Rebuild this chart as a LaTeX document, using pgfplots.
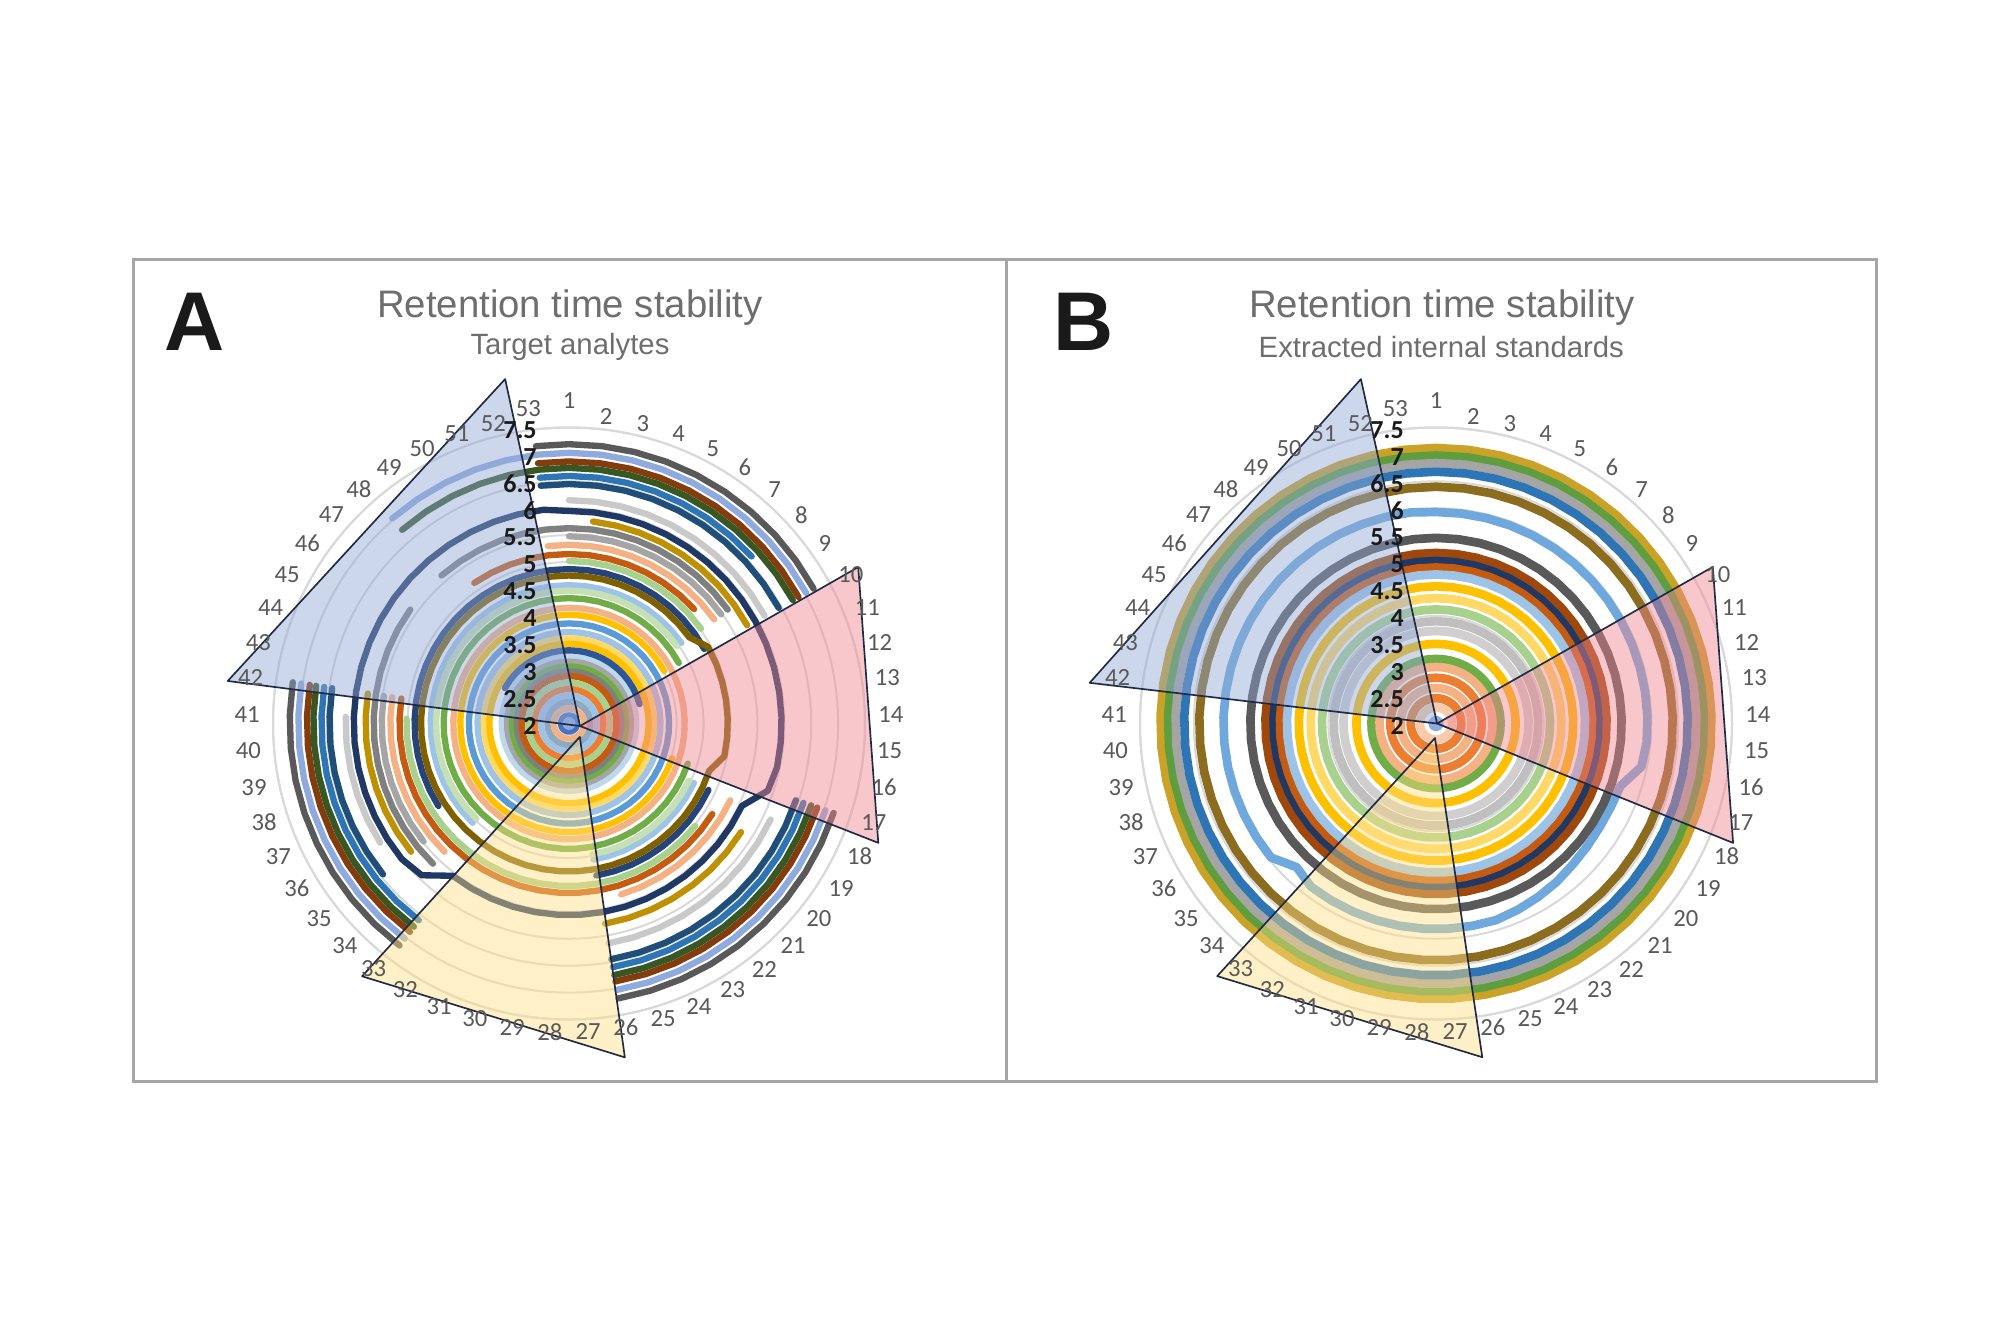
\documentclass[border=0pt]{standalone}
\usepackage{fontspec}
\setmainfont{Liberation Sans}
\newfontfamily\calibri{Carlito}
\usepackage{pgfplots}
\usepackage{pgfplotstable}
\pgfplotsset{compat=1.18}
\usepgfplotslibrary{polar}

\definecolor{gridgray}{HTML}{D9D9D9}
\definecolor{boxgray}{HTML}{A6A6A6}
\definecolor{labgray}{HTML}{595959}
\definecolor{titlegray}{HTML}{6E6E6E}
\definecolor{radblack}{HTML}{1A1A1A}
\definecolor{triedge}{HTML}{1F2A44}
\definecolor{triblue}{RGB}{146,168,213}
\definecolor{tripink}{RGB}{239,133,144}
\definecolor{triyellow}{RGB}{255,222,133}
% panel A, partial series
\definecolor{ac1}{HTML}{595959}\definecolor{ac2}{HTML}{8FAADC}\definecolor{ac3}{HTML}{843C0C}
\definecolor{ac4}{HTML}{385723}\definecolor{ac5}{HTML}{2E75B6}\definecolor{ac6}{HTML}{1F4E79}
\definecolor{ac7}{HTML}{C9C9C9}\definecolor{ac8}{HTML}{203864}\definecolor{ac9}{HTML}{BF9000}
\definecolor{ac10}{HTML}{7F7F7F}\definecolor{ac11}{HTML}{A5A5A5}\definecolor{ac12}{HTML}{F4B183}
\definecolor{ac13}{HTML}{C55A11}\definecolor{ac14}{HTML}{A9D18E}\definecolor{ac15}{HTML}{264478}
\definecolor{ac16}{HTML}{7F6000}\definecolor{ac17}{HTML}{9DC3E6}\definecolor{ac18}{HTML}{C5E0B4}
\definecolor{ac19}{HTML}{70AD47}\definecolor{ac20}{HTML}{FFC000}\definecolor{ac21}{HTML}{2F5597}
% panel A, full rings
\definecolor{af1}{HTML}{F4B183}\definecolor{af2}{HTML}{5B9BD5}\definecolor{af3}{HTML}{9DC3E6}
\definecolor{af4}{HTML}{FFD966}\definecolor{af5}{HTML}{FFC000}\definecolor{af6}{HTML}{BDD7EE}
\definecolor{af7}{HTML}{A5A5A5}\definecolor{af8}{HTML}{70AD47}\definecolor{af9}{HTML}{7F7F7F}
\definecolor{af10}{HTML}{C55A11}\definecolor{af11}{HTML}{A9D18E}\definecolor{af12}{HTML}{ED7D31}
\definecolor{af13}{HTML}{9DC3E6}\definecolor{af14}{HTML}{8EA9C1}\definecolor{af15}{HTML}{F4B183}
\definecolor{af16}{HTML}{4472C4}\definecolor{af17}{HTML}{8FAADC}
% panel B
\definecolor{bc1}{HTML}{C9A227}\definecolor{bc2}{HTML}{5E9E3E}\definecolor{bc3}{HTML}{A5A5A5}
\definecolor{bc4}{HTML}{2E75B6}\definecolor{bc5}{HTML}{8C6D1F}\definecolor{bc6}{HTML}{6FA8DC}
\definecolor{bc7}{HTML}{595959}\definecolor{bc8}{HTML}{9E480E}\definecolor{bc9}{HTML}{203864}
\definecolor{bc10}{HTML}{C55A11}\definecolor{bc11}{HTML}{9DC3E6}\definecolor{bc12}{HTML}{FFC000}
\definecolor{bc13}{HTML}{FFD966}\definecolor{bc14}{HTML}{A9D18E}\definecolor{bc15}{HTML}{BFBFBF}
\definecolor{bc16}{HTML}{D0CECE}\definecolor{bc17}{HTML}{FFC000}\definecolor{bc18}{HTML}{70AD47}
\definecolor{bc19}{HTML}{F4B183}\definecolor{bc20}{HTML}{ED7D31}\definecolor{bc21}{HTML}{F4B183}
\definecolor{bc22}{HTML}{ED7D31}\definecolor{bc23}{HTML}{F8CBAD}\definecolor{bc24}{HTML}{8FAADC}

% Panel A: series with gaps (spoke k, retention time)
\pgfplotstableread{
k c1 c2 c3 c4 c5 c6 c7 c8 c9 c10 c11 c12 c13 c14 c15 c16 c17 c18 c19 c20 c21
1 7.19 7.03 6.87 6.75 6.60 6.45 6.15 5.95 nan 5.63 5.48 5.32 5.15 5.02 4.87 4.75 4.57 4.47 4.33 4.02 3.36
2 7.19 7.03 6.87 6.75 6.60 6.45 6.15 5.95 5.78 5.63 5.48 5.32 5.15 5.02 4.87 4.75 4.57 4.47 4.33 4.02 3.36
3 7.19 7.03 6.87 6.75 6.60 6.45 6.15 5.95 5.78 5.63 5.48 5.32 5.15 5.02 4.87 4.75 4.57 4.47 4.33 4.02 3.36
4 7.19 7.03 6.87 6.75 6.60 6.45 6.15 5.95 5.78 5.63 5.48 5.32 5.15 5.02 4.87 4.75 4.57 4.47 4.33 4.02 3.36
5 7.19 7.03 6.87 6.75 6.60 6.45 6.15 5.95 5.78 5.63 5.48 5.32 5.15 5.02 4.87 4.75 4.57 4.47 4.33 4.02 3.36
6 7.19 7.03 6.87 6.75 6.60 6.45 6.15 5.95 5.78 5.63 5.48 5.32 5.15 5.02 4.87 4.75 4.57 4.47 4.33 4.02 3.36
7 7.19 7.03 6.87 6.75 6.60 6.45 6.15 5.95 5.78 5.63 5.48 5.32 5.15 5.02 4.87 4.75 4.57 4.47 4.33 4.02 3.36
8 7.19 7.03 6.87 6.75 6.60 6.45 6.15 5.95 5.78 5.63 5.48 5.32 5.15 5.02 4.87 4.75 4.57 4.47 4.33 4.02 3.36
9 7.19 7.03 6.87 6.75 nan 6.45 6.15 5.95 5.78 5.63 5.48 5.32 nan 5.02 4.87 4.75 4.57 4.47 4.33 4.02 3.36
10 7.19 7.03 6.87 6.75 nan 6.45 6.15 5.95 5.78 nan nan nan nan nan 4.87 4.95 nan nan 4.33 4.02 3.36
11 nan nan nan nan nan nan nan 5.95 nan nan nan nan nan nan nan 4.95 nan nan nan nan 3.36
12 nan nan nan nan nan nan nan 5.95 nan nan nan nan nan nan nan 4.95 nan nan nan nan 3.36
13 nan nan nan nan nan nan nan 5.95 nan nan nan nan nan nan nan 4.95 nan nan nan nan nan
14 nan nan nan nan nan nan nan 5.95 nan nan nan nan nan nan nan 4.95 nan nan nan nan nan
15 nan nan nan nan nan nan nan 5.95 nan nan nan nan nan nan nan 4.95 nan nan nan nan nan
16 nan nan nan nan nan nan nan 5.95 nan nan nan nan nan nan nan 4.95 nan nan nan nan nan
17 7.19 7.03 6.87 6.75 6.60 6.45 nan 5.90 nan nan nan nan nan nan nan 4.75 nan nan 4.33 4.02 nan
18 7.19 7.03 6.87 6.75 6.60 6.45 6.15 5.56 nan nan nan 5.32 nan nan 4.87 4.75 4.57 4.47 4.33 4.02 nan
19 7.19 7.03 6.87 6.75 6.60 6.45 6.15 5.56 5.78 nan nan 5.32 5.15 nan 4.87 4.75 4.57 4.47 4.33 4.02 nan
20 7.19 7.03 6.87 6.75 6.60 6.45 6.15 5.56 5.78 nan nan 5.32 5.15 5.02 4.87 4.75 4.57 4.47 4.33 4.02 nan
21 7.19 7.03 6.87 6.75 6.60 6.45 6.15 5.56 5.78 nan nan 5.32 5.15 5.02 4.87 4.75 4.57 4.47 4.33 4.02 nan
22 7.19 7.03 6.87 6.75 6.60 6.45 6.15 5.56 5.78 nan nan 5.32 5.15 5.02 4.87 4.75 4.57 4.47 4.33 4.02 nan
23 7.19 7.03 6.87 6.75 6.60 6.45 6.15 5.56 5.78 nan nan 5.32 5.15 5.02 4.87 4.75 4.57 4.47 4.33 4.02 nan
24 7.19 7.03 6.87 6.75 6.60 6.45 6.15 5.56 5.78 nan nan 5.32 5.15 5.02 4.87 4.75 4.57 4.47 4.33 4.02 nan
25 7.19 7.03 6.87 6.75 6.60 6.45 6.15 5.56 5.78 nan nan 5.32 5.15 5.02 4.87 4.75 4.57 4.47 4.33 4.02 nan
26 7.19 7.03 6.87 6.75 6.60 6.45 6.15 5.56 5.78 nan nan nan 5.15 5.02 4.87 4.75 4.57 4.47 4.33 4.02 nan
27 nan nan nan nan nan nan nan 5.56 nan nan nan nan 5.15 5.02 nan 4.75 nan nan 4.33 4.02 nan
28 nan nan nan nan nan nan nan 5.56 nan nan nan nan 5.15 5.02 nan 4.75 nan nan 4.33 4.02 nan
29 nan nan nan nan nan nan nan 5.56 nan nan nan nan 5.15 5.02 nan 4.75 nan nan 4.33 4.02 nan
30 nan nan nan nan nan nan nan 5.56 nan nan nan nan 5.15 5.02 nan 4.75 nan nan 4.33 4.02 nan
31 nan nan nan nan nan nan nan 5.56 nan nan nan nan 5.15 5.02 nan 4.75 nan nan 4.33 4.02 nan
32 nan nan nan nan nan nan nan 5.56 nan nan nan nan 5.15 5.02 nan 4.75 nan nan 4.33 4.02 nan
33 7.19 7.03 6.87 6.75 6.60 nan nan 5.56 nan nan nan nan 5.15 5.02 nan 4.75 nan nan 4.33 4.02 nan
34 7.19 7.03 6.87 6.75 6.60 nan nan 5.93 nan 5.63 nan 5.32 5.15 5.02 nan 4.75 4.57 4.47 4.33 4.02 nan
35 7.19 7.03 6.87 6.75 6.60 6.45 nan 6.00 5.78 5.63 5.48 5.32 5.15 5.02 nan 4.75 4.57 4.47 4.33 4.02 nan
36 7.19 7.03 6.87 6.75 6.60 6.45 6.15 6.00 5.78 5.63 5.48 5.32 5.15 5.02 4.87 4.75 4.57 4.47 4.33 4.02 nan
37 7.19 7.03 6.87 6.75 6.60 6.45 6.15 6.00 5.78 5.63 5.48 5.32 5.15 5.02 4.87 4.75 4.57 4.47 4.33 4.02 nan
38 7.19 7.03 6.87 6.75 6.60 6.45 6.15 6.00 5.78 5.63 5.48 5.32 5.15 5.02 4.87 4.75 4.57 4.47 4.33 4.02 nan
39 7.19 7.03 6.87 6.75 6.60 6.45 6.15 6.00 5.78 5.63 5.48 5.32 5.15 5.02 4.87 4.75 4.57 4.47 4.33 4.02 nan
40 7.19 7.03 6.87 6.75 6.60 6.45 6.15 6.00 5.78 5.63 5.48 5.32 5.15 5.02 4.87 4.75 4.57 4.47 4.33 4.02 nan
41 7.19 7.03 6.87 6.75 6.60 6.45 6.15 6.00 5.78 5.63 5.48 5.32 5.15 5.02 4.87 4.75 4.57 4.47 4.33 4.02 nan
42 7.19 7.03 6.87 6.75 6.60 6.45 nan 6.00 5.78 5.63 5.48 5.32 5.15 nan 4.87 4.75 4.57 4.47 4.33 4.02 nan
43 nan nan nan nan nan nan nan 6.00 nan 5.63 nan nan nan nan 4.87 4.75 4.57 4.47 4.33 4.02 nan
44 nan nan nan nan nan nan nan 6.00 nan 5.63 nan nan nan nan 4.87 4.75 4.57 4.47 4.33 4.02 nan
45 nan nan nan nan nan nan nan 6.00 nan 5.63 nan nan nan nan 4.87 4.75 4.57 4.47 4.33 4.02 3.36
46 nan nan nan nan nan nan nan 6.00 nan 5.63 nan nan nan nan 4.87 4.75 4.57 4.47 4.33 4.02 3.36
47 nan nan nan nan nan nan nan 6.00 nan nan nan nan nan nan 4.87 4.75 4.57 4.47 4.33 4.02 3.36
48 nan 7.03 nan 6.75 nan nan nan 6.00 nan 5.63 nan nan nan nan 4.87 4.75 4.57 4.47 4.33 4.02 3.36
49 nan 7.03 nan 6.75 nan nan nan 6.00 nan 5.63 nan nan 5.15 nan 4.87 4.75 4.57 4.47 4.33 4.02 3.36
50 nan 7.03 nan 6.75 nan nan nan 6.00 nan 5.63 nan nan 5.15 nan 4.87 4.75 4.57 4.47 4.33 4.02 3.36
51 nan 7.03 nan 6.75 nan nan nan 6.00 nan 5.63 nan nan 5.15 nan 4.87 4.75 4.57 4.47 4.33 4.02 3.36
52 nan 7.03 nan 6.75 nan nan nan 6.00 nan 5.63 nan nan 5.15 nan 4.87 4.75 4.57 4.47 4.33 4.02 3.36
53 7.19 7.03 6.87 6.75 6.60 6.45 nan 6.00 nan 5.63 nan 5.32 5.15 nan 4.87 4.75 4.57 4.47 4.33 4.02 3.36
54 7.19 7.03 6.87 6.75 6.60 6.45 6.15 5.95 nan 5.63 5.48 5.32 5.15 5.02 4.87 4.75 4.57 4.47 4.33 4.02 3.36
}\tabA

% Panel A: inner rings present at every spoke (row 54 closes the ring at spoke 1)
\pgfplotstableread{
k f1 f2 f3 f4 f5 f6 f7 f8 f9 f10 f11 f12 f13 f14 f15 f16 f17
1 4.15 3.86 3.70 3.58 3.48 3.25 3.15 3.06 2.97 2.88 2.76 2.64 2.52 2.40 2.28 2.15 2.06
2 4.15 3.86 3.70 3.58 3.48 3.25 3.15 3.06 2.97 2.88 2.76 2.64 2.52 2.40 2.28 2.15 2.06
3 4.15 3.86 3.70 3.58 3.48 3.25 3.15 3.06 2.97 2.88 2.76 2.64 2.52 2.40 2.28 2.15 2.06
4 4.15 3.86 3.70 3.58 3.48 3.25 3.15 3.06 2.97 2.88 2.76 2.64 2.52 2.40 2.28 2.15 2.06
5 4.15 3.86 3.70 3.58 3.48 3.25 3.15 3.06 2.97 2.88 2.76 2.64 2.52 2.40 2.28 2.15 2.06
6 4.15 3.86 3.70 3.58 3.48 3.25 3.15 3.06 2.97 2.88 2.76 2.64 2.52 2.40 2.28 2.15 2.06
7 4.15 3.86 3.70 3.58 3.48 3.25 3.15 3.06 2.97 2.88 2.76 2.64 2.52 2.40 2.28 2.15 2.06
8 4.15 3.86 3.70 3.58 3.48 3.25 3.15 3.06 2.97 2.88 2.76 2.64 2.52 2.40 2.28 2.15 2.06
9 4.15 3.86 3.70 3.58 3.48 3.25 3.15 3.06 2.97 2.88 2.76 2.64 2.52 2.40 2.28 2.15 2.06
10 4.15 3.86 3.70 3.58 3.48 3.25 3.15 3.06 2.97 2.88 2.76 2.64 2.52 2.40 2.28 2.15 2.06
11 4.15 3.86 3.70 3.58 3.48 3.25 3.15 3.06 2.97 2.88 2.76 2.64 2.52 2.40 2.28 2.15 2.06
12 4.15 3.86 3.70 3.58 3.48 3.25 3.15 3.06 2.97 2.88 2.76 2.64 2.52 2.40 2.28 2.15 2.06
13 4.15 3.86 3.70 3.58 3.48 3.25 3.15 3.06 2.97 2.88 2.76 2.64 2.52 2.40 2.28 2.15 2.06
14 4.15 3.86 3.70 3.58 3.48 3.25 3.15 3.06 2.97 2.88 2.76 2.64 2.52 2.40 2.28 2.15 2.06
15 4.15 3.86 3.70 3.58 3.48 3.25 3.15 3.06 2.97 2.88 2.76 2.64 2.52 2.40 2.28 2.15 2.06
16 4.15 3.86 3.70 3.58 3.48 3.25 3.15 3.06 2.97 2.88 2.76 2.64 2.52 2.40 2.28 2.15 2.06
17 4.15 3.86 3.70 3.58 3.48 3.25 3.15 3.06 2.97 2.88 2.76 2.64 2.52 2.40 2.28 2.15 2.06
18 4.15 3.86 3.70 3.58 3.48 3.25 3.15 3.06 2.97 2.88 2.76 2.64 2.52 2.40 2.28 2.15 2.06
19 4.15 3.86 3.70 3.58 3.48 3.25 3.15 3.06 2.97 2.88 2.76 2.64 2.52 2.40 2.28 2.15 2.06
20 4.15 3.86 3.70 3.58 3.48 3.25 3.15 3.06 2.97 2.88 2.76 2.64 2.52 2.40 2.28 2.15 2.06
21 4.15 3.86 3.70 3.58 3.48 3.25 3.15 3.06 2.97 2.88 2.76 2.64 2.52 2.40 2.28 2.15 2.06
22 4.15 3.86 3.70 3.58 3.48 3.25 3.15 3.06 2.97 2.88 2.76 2.64 2.52 2.40 2.28 2.15 2.06
23 4.15 3.86 3.70 3.58 3.48 3.25 3.15 3.06 2.97 2.88 2.76 2.64 2.52 2.40 2.28 2.15 2.06
24 4.15 3.86 3.70 3.58 3.48 3.25 3.15 3.06 2.97 2.88 2.76 2.64 2.52 2.40 2.28 2.15 2.06
25 4.15 3.86 3.70 3.58 3.48 3.25 3.15 3.06 2.97 2.88 2.76 2.64 2.52 2.40 2.28 2.15 2.06
26 4.15 3.86 3.70 3.58 3.48 3.25 3.15 3.06 2.97 2.88 2.76 2.64 2.52 2.40 2.28 2.15 2.06
27 4.15 3.86 3.70 3.58 3.48 3.25 3.15 3.06 2.97 2.88 2.76 2.64 2.52 2.40 2.28 2.15 2.06
28 4.15 3.86 3.70 3.58 3.48 3.25 3.15 3.06 2.97 2.88 2.76 2.64 2.52 2.40 2.28 2.15 2.06
29 4.15 3.86 3.70 3.58 3.48 3.25 3.15 3.06 2.97 2.88 2.76 2.64 2.52 2.40 2.28 2.15 2.06
30 4.15 3.86 3.70 3.58 3.48 3.25 3.15 3.06 2.97 2.88 2.76 2.64 2.52 2.40 2.28 2.15 2.06
31 4.15 3.86 3.70 3.58 3.48 3.25 3.15 3.06 2.97 2.88 2.76 2.64 2.52 2.40 2.28 2.15 2.06
32 4.15 3.86 3.70 3.58 3.48 3.25 3.15 3.06 2.97 2.88 2.76 2.64 2.52 2.40 2.28 2.15 2.06
33 4.15 3.86 3.70 3.58 3.48 3.25 3.15 3.06 2.97 2.88 2.76 2.64 2.52 2.40 2.28 2.15 2.06
34 4.15 3.86 3.70 3.58 3.48 3.25 3.15 3.06 2.97 2.88 2.76 2.64 2.52 2.40 2.28 2.15 2.06
35 4.15 3.86 3.70 3.58 3.48 3.25 3.15 3.06 2.97 2.88 2.76 2.64 2.52 2.40 2.28 2.15 2.06
36 4.15 3.86 3.70 3.58 3.48 3.25 3.15 3.06 2.97 2.88 2.76 2.64 2.52 2.40 2.28 2.15 2.06
37 4.15 3.86 3.70 3.58 3.48 3.25 3.15 3.06 2.97 2.88 2.76 2.64 2.52 2.40 2.28 2.15 2.06
38 4.15 3.86 3.70 3.58 3.48 3.25 3.15 3.06 2.97 2.88 2.76 2.64 2.52 2.40 2.28 2.15 2.06
39 4.15 3.86 3.70 3.58 3.48 3.25 3.15 3.06 2.97 2.88 2.76 2.64 2.52 2.40 2.28 2.15 2.06
40 4.15 3.86 3.70 3.58 3.48 3.25 3.15 3.06 2.97 2.88 2.76 2.64 2.52 2.40 2.28 2.15 2.06
41 4.15 3.86 3.70 3.58 3.48 3.25 3.15 3.06 2.97 2.88 2.76 2.64 2.52 2.40 2.28 2.15 2.06
42 4.15 3.86 3.70 3.58 3.48 3.25 3.15 3.06 2.97 2.88 2.76 2.64 2.52 2.40 2.28 2.15 2.06
43 4.15 3.86 3.70 3.58 3.48 3.25 3.15 3.06 2.97 2.88 2.76 2.64 2.52 2.40 2.28 2.15 2.06
44 4.15 3.86 3.70 3.58 3.48 3.25 3.15 3.06 2.97 2.88 2.76 2.64 2.52 2.40 2.28 2.15 2.06
45 4.15 3.86 3.70 3.58 3.48 3.25 3.15 3.06 2.97 2.88 2.76 2.64 2.52 2.40 2.28 2.15 2.06
46 4.15 3.86 3.70 3.58 3.48 3.25 3.15 3.06 2.97 2.88 2.76 2.64 2.52 2.40 2.28 2.15 2.06
47 4.15 3.86 3.70 3.58 3.48 3.25 3.15 3.06 2.97 2.88 2.76 2.64 2.52 2.40 2.28 2.15 2.06
48 4.15 3.86 3.70 3.58 3.48 3.25 3.15 3.06 2.97 2.88 2.76 2.64 2.52 2.40 2.28 2.15 2.06
49 4.15 3.86 3.70 3.58 3.48 3.25 3.15 3.06 2.97 2.88 2.76 2.64 2.52 2.40 2.28 2.15 2.06
50 4.15 3.86 3.70 3.58 3.48 3.25 3.15 3.06 2.97 2.88 2.76 2.64 2.52 2.40 2.28 2.15 2.06
51 4.15 3.86 3.70 3.58 3.48 3.25 3.15 3.06 2.97 2.88 2.76 2.64 2.52 2.40 2.28 2.15 2.06
52 4.15 3.86 3.70 3.58 3.48 3.25 3.15 3.06 2.97 2.88 2.76 2.64 2.52 2.40 2.28 2.15 2.06
53 4.15 3.86 3.70 3.58 3.48 3.25 3.15 3.06 2.97 2.88 2.76 2.64 2.52 2.40 2.28 2.15 2.06
54 4.15 3.86 3.70 3.58 3.48 3.25 3.15 3.06 2.97 2.88 2.76 2.64 2.52 2.40 2.28 2.15 2.06
}\tabAf

% Panel B: internal standards
\pgfplotstableread{
k b1 b2 b3 b4 b5 b6 b7 b8 b9 b10 b11 b12 b13 b14 b15 b16 b17 b18 b19 b20 b21 b22 b23 b24
1 7.12 6.98 6.84 6.68 6.40 5.93 5.45 5.17 5.02 4.90 4.77 4.55 4.33 4.12 3.90 3.72 3.48 3.20 3.05 2.85 2.66 2.47 2.30 2.06
2 7.12 6.98 6.84 6.68 6.40 5.93 5.45 5.17 5.02 4.90 4.77 4.55 4.33 4.12 3.90 3.72 3.48 3.20 3.05 2.85 2.66 2.47 2.30 2.06
3 7.12 6.98 6.84 6.68 6.40 5.93 5.45 5.17 5.02 4.90 4.77 4.55 4.33 4.12 3.90 3.72 3.48 3.20 3.05 2.85 2.66 2.47 2.30 2.06
4 7.12 6.98 6.84 6.68 6.40 5.93 5.45 5.17 5.02 4.90 4.77 4.55 4.33 4.12 3.90 3.72 3.48 3.20 3.05 2.85 2.66 2.47 2.30 2.06
5 7.12 6.98 6.84 6.68 6.40 5.93 5.45 5.17 5.02 4.90 4.77 4.55 4.33 4.12 3.90 3.72 3.48 3.20 3.05 2.85 2.66 2.47 2.30 2.06
6 7.12 6.98 6.84 6.68 6.40 5.93 5.45 5.17 5.02 4.90 4.77 4.55 4.33 4.12 3.90 3.72 3.48 3.20 3.05 2.85 2.66 2.47 2.30 2.06
7 7.12 6.98 6.84 6.68 6.40 5.93 5.45 5.17 5.02 4.90 4.77 4.55 4.33 4.12 3.90 3.72 3.48 3.20 3.05 2.85 2.66 2.47 2.30 2.06
8 7.12 6.98 6.84 6.68 6.40 5.93 5.45 5.17 5.02 4.90 4.77 4.55 4.33 4.12 3.90 3.72 3.48 3.20 3.05 2.85 2.66 2.47 2.30 2.06
9 7.12 6.98 6.84 6.68 6.40 5.93 5.45 5.17 5.02 4.90 4.77 4.55 4.33 4.12 3.90 3.72 3.48 3.20 3.05 2.85 2.66 2.47 2.30 2.06
10 7.12 6.98 6.84 6.68 6.40 5.93 5.45 5.17 5.02 4.90 4.77 4.55 4.33 4.12 3.90 3.72 3.48 3.20 3.05 2.85 2.66 2.47 2.30 2.06
11 7.12 6.98 6.84 6.68 6.40 5.93 5.45 5.17 5.02 4.90 4.77 4.55 4.33 4.12 3.90 3.72 3.48 3.20 3.05 2.85 2.66 2.47 2.30 2.06
12 7.12 6.98 6.84 6.68 6.40 5.93 5.45 5.17 5.02 4.90 4.77 4.55 4.33 4.12 3.90 3.72 3.48 3.20 3.05 2.85 2.66 2.47 2.30 2.06
13 7.12 6.98 6.84 6.68 6.40 5.93 5.45 5.17 5.02 4.90 4.77 4.55 4.33 4.12 3.90 3.72 3.48 3.20 3.05 2.85 2.66 2.47 2.30 2.06
14 7.12 6.98 6.84 6.68 6.40 5.93 5.45 5.17 5.02 4.90 4.77 4.55 4.33 4.12 3.90 3.72 3.48 3.20 3.05 2.85 2.66 2.47 2.30 2.06
15 7.12 6.98 6.84 6.68 6.40 5.93 5.45 5.17 5.02 4.90 4.77 4.55 4.33 4.12 3.90 3.72 3.48 3.20 3.05 2.85 2.66 2.47 2.30 2.06
16 7.12 6.98 6.84 6.68 6.40 5.90 5.45 5.17 5.02 4.90 4.77 4.55 4.33 4.12 3.90 3.72 3.48 3.20 3.05 2.85 2.66 2.47 2.30 2.06
17 7.12 6.98 6.84 6.68 6.40 5.62 5.45 5.17 5.02 4.90 4.77 4.55 4.33 4.12 3.90 3.72 3.48 3.20 3.05 2.85 2.66 2.47 2.30 2.06
18 7.12 6.98 6.84 6.68 6.40 5.60 5.45 5.17 5.02 4.90 4.77 4.55 4.33 4.12 3.90 3.72 3.48 3.20 3.05 2.85 2.66 2.47 2.30 2.06
19 7.12 6.98 6.84 6.68 6.40 5.60 5.45 5.17 5.02 4.90 4.77 4.55 4.33 4.12 3.90 3.72 3.48 3.20 3.05 2.85 2.66 2.47 2.30 2.06
20 7.12 6.98 6.84 6.68 6.40 5.62 5.45 5.17 5.02 4.90 4.77 4.55 4.33 4.12 3.90 3.72 3.48 3.20 3.05 2.85 2.66 2.47 2.30 2.06
21 7.12 6.98 6.84 6.68 6.40 5.65 5.45 5.17 5.02 4.90 4.77 4.55 4.33 4.12 3.90 3.72 3.48 3.20 3.05 2.85 2.66 2.47 2.30 2.06
22 7.12 6.98 6.84 6.68 6.40 5.70 5.45 5.17 5.02 4.90 4.77 4.55 4.33 4.12 3.90 3.72 3.48 3.20 3.05 2.85 2.66 2.47 2.30 2.06
23 7.12 6.98 6.84 6.68 6.40 5.74 5.45 5.17 5.02 4.90 4.77 4.55 4.33 4.12 3.90 3.72 3.48 3.20 3.05 2.85 2.66 2.47 2.30 2.06
24 7.12 6.98 6.84 6.68 6.40 5.78 5.45 5.17 5.02 4.90 4.77 4.55 4.33 4.12 3.90 3.72 3.48 3.20 3.05 2.85 2.66 2.47 2.30 2.06
25 7.12 6.98 6.84 6.68 6.40 5.82 5.45 5.17 5.02 4.90 4.77 4.55 4.33 4.12 3.90 3.72 3.48 3.20 3.05 2.85 2.66 2.47 2.30 2.06
26 7.12 6.98 6.84 6.68 6.40 5.82 5.45 5.17 5.02 4.90 4.77 4.55 4.33 4.12 3.90 3.72 3.48 3.20 3.05 2.85 2.66 2.47 2.30 2.06
27 7.12 6.98 6.84 6.68 6.40 5.82 5.45 5.17 5.02 4.90 4.77 4.55 4.33 4.12 3.90 3.72 3.48 3.20 3.05 2.85 2.66 2.47 2.30 2.06
28 7.12 6.98 6.84 6.68 6.40 5.82 5.45 5.17 5.02 4.90 4.77 4.55 4.33 4.12 3.90 3.72 3.48 3.20 3.05 2.85 2.66 2.47 2.30 2.06
29 7.12 6.98 6.84 6.68 6.40 5.82 5.45 5.17 5.02 4.90 4.77 4.55 4.33 4.12 3.90 3.72 3.48 3.20 3.05 2.85 2.66 2.47 2.30 2.06
30 7.12 6.98 6.84 6.68 6.40 5.82 5.45 5.17 5.02 4.90 4.77 4.55 4.33 4.12 3.90 3.72 3.48 3.20 3.05 2.85 2.66 2.47 2.30 2.06
31 7.12 6.98 6.84 6.68 6.40 5.82 5.45 5.17 5.02 4.90 4.77 4.55 4.33 4.12 3.90 3.72 3.48 3.20 3.05 2.85 2.66 2.47 2.30 2.06
32 7.12 6.98 6.84 6.68 6.40 5.82 5.45 5.17 5.02 4.90 4.77 4.55 4.33 4.12 3.90 3.72 3.48 3.20 3.05 2.85 2.66 2.47 2.30 2.06
33 7.12 6.98 6.84 6.68 6.40 5.82 5.45 5.17 5.02 4.90 4.77 4.55 4.33 4.12 3.90 3.72 3.48 3.20 3.05 2.85 2.66 2.47 2.30 2.06
34 7.12 6.98 6.84 6.68 6.40 5.72 5.45 5.17 5.02 4.90 4.77 4.55 4.33 4.12 3.90 3.72 3.48 3.20 3.05 2.85 2.66 2.47 2.30 2.06
35 7.12 6.98 6.84 6.68 6.40 5.95 5.45 5.17 5.02 4.90 4.77 4.55 4.33 4.12 3.90 3.72 3.48 3.20 3.05 2.85 2.66 2.47 2.30 2.06
36 7.12 6.98 6.84 6.68 6.40 5.95 5.45 5.17 5.02 4.90 4.77 4.55 4.33 4.12 3.90 3.72 3.48 3.20 3.05 2.85 2.66 2.47 2.30 2.06
37 7.12 6.98 6.84 6.68 6.40 5.95 5.45 5.17 5.02 4.90 4.77 4.55 4.33 4.12 3.90 3.72 3.48 3.20 3.05 2.85 2.66 2.47 2.30 2.06
38 7.12 6.98 6.84 6.68 6.40 5.95 5.45 5.17 5.02 4.90 4.77 4.55 4.33 4.12 3.90 3.72 3.48 3.20 3.05 2.85 2.66 2.47 2.30 2.06
39 7.12 6.98 6.84 6.68 6.40 5.95 5.45 5.17 5.02 4.90 4.77 4.55 4.33 4.12 3.90 3.72 3.48 3.20 3.05 2.85 2.66 2.47 2.30 2.06
40 7.12 6.98 6.84 6.68 6.40 5.95 5.45 5.17 5.02 4.90 4.77 4.55 4.33 4.12 3.90 3.72 3.48 3.20 3.05 2.85 2.66 2.47 2.30 2.06
41 7.12 6.98 6.84 6.68 6.40 5.95 5.45 5.17 5.02 4.90 4.77 4.55 4.33 4.12 3.90 3.72 3.48 3.20 3.05 2.85 2.66 2.47 2.30 2.06
42 7.12 6.98 6.84 6.68 6.40 5.95 5.45 5.17 5.02 4.90 4.77 4.55 4.33 4.12 3.90 3.72 3.48 3.20 3.05 2.85 2.66 2.47 2.30 2.06
43 7.12 6.98 6.84 6.68 6.40 5.95 5.45 5.17 5.02 4.90 4.77 4.55 4.33 4.12 3.90 3.72 3.48 3.20 3.05 2.85 2.66 2.47 2.30 2.06
44 7.12 6.98 6.84 6.68 6.40 5.95 5.45 5.17 5.02 4.90 4.77 4.55 4.33 4.12 3.90 3.72 3.48 3.20 3.05 2.85 2.66 2.47 2.30 2.06
45 7.12 6.98 6.84 6.68 6.40 5.95 5.45 5.17 5.02 4.90 4.77 4.55 4.33 4.12 3.90 3.72 3.48 3.20 3.05 2.85 2.66 2.47 2.30 2.06
46 7.12 6.98 6.84 6.68 6.40 5.95 5.45 5.17 5.02 4.90 4.77 4.55 4.33 4.12 3.90 3.72 3.48 3.20 3.05 2.85 2.66 2.47 2.30 2.06
47 7.12 6.98 6.84 6.68 6.40 5.95 5.45 5.17 5.02 4.90 4.77 4.55 4.33 4.12 3.90 3.72 3.48 3.20 3.05 2.85 2.66 2.47 2.30 2.06
48 7.12 6.98 6.84 6.68 6.40 5.95 5.45 5.17 5.02 4.90 4.77 4.55 4.33 4.12 3.90 3.72 3.48 3.20 3.05 2.85 2.66 2.47 2.30 2.06
49 7.12 6.98 6.84 6.68 6.40 5.95 5.45 5.17 5.02 4.90 4.77 4.55 4.33 4.12 3.90 3.72 3.48 3.20 3.05 2.85 2.66 2.47 2.30 2.06
50 7.12 6.98 6.84 6.68 6.40 5.95 5.45 5.17 5.02 4.90 4.77 4.55 4.33 4.12 3.90 3.72 3.48 3.20 3.05 2.85 2.66 2.47 2.30 2.06
51 7.12 6.98 6.84 6.68 6.40 5.95 5.45 5.17 5.02 4.90 4.77 4.55 4.33 4.12 3.90 3.72 3.48 3.20 3.05 2.85 2.66 2.47 2.30 2.06
52 7.12 6.98 6.84 6.68 6.40 5.95 5.45 5.17 5.02 4.90 4.77 4.55 4.33 4.12 3.90 3.72 3.48 3.20 3.05 2.85 2.66 2.47 2.30 2.06
53 7.12 6.98 6.84 6.68 6.40 5.95 5.45 5.17 5.02 4.90 4.77 4.55 4.33 4.12 3.90 3.72 3.48 3.20 3.05 2.85 2.66 2.47 2.30 2.06
54 7.12 6.98 6.84 6.68 6.40 5.93 5.45 5.17 5.02 4.90 4.77 4.55 4.33 4.12 3.90 3.72 3.48 3.20 3.05 2.85 2.66 2.47 2.30 2.06
}\tabB

\newcommand{\ang}{90-(\thisrow{k}-1)*6.7924528}
\pgfplotsset{
  radar/.style={
    anchor=center, scale only axis, width=177.6pt, height=177.6pt,
    xmin=0, xmax=360, ymin=0, ymax=5.5,
    xtick=\empty, ytick={0.5,1,1.5,2,2.5,3,3.5,4,4.5,5,5.5}, yticklabel=\empty,
    major tick length=0pt,
    ymajorgrids, xmajorgrids=false,
    grid style={draw=gridgray, line width=0.6pt},
    axis line style={draw=gridgray, line width=0.6pt},
    y axis line style={draw=none},
    clip=false, unbounded coords=jump,
    every axis plot/.append style={line cap=round, line join=round},
  },
}
\tikzset{
  spk/.style={inner sep=0pt, font=\calibri\fontsize{7.4}{8}\selectfont, text=labgray},
  rad/.style={anchor=east, inner sep=0pt, xshift=-9.5pt, yshift=-0.7pt,
              font=\calibri\bfseries\fontsize{7.8}{8}\selectfont, text=radblack},
}
\newcommand{\spokelabels}{%
  \node[spk] at (axis cs:90,6.0) {1};%
  \pgfplotsinvokeforeach{2,...,9}{%
    \node[spk, xshift={1.8pt*cos(90-(##1-1)*6.7924528)}]
      at (axis cs:{90-(##1-1)*6.7924528},5.74) {##1};}%
  \pgfplotsinvokeforeach{10,...,52}{%
    \node[spk, xshift={3.9pt*cos(90-(##1-1)*6.7924528)}]
      at (axis cs:{90-(##1-1)*6.7924528},5.74) {##1};}%
  \node[spk, xshift=-1.2pt, yshift=2.6pt] at (axis cs:96.79245,5.74) {53};%
}
\newcommand{\radlabels}{%
  \pgfplotsinvokeforeach{2,2.5,3,3.5,4,4.5,5,5.5,6,6.5,7,7.5}{%
    \node[rad] at (axis cs:90,{##1-2}) {##1};}%
}

\begin{document}
\begin{tikzpicture}[x=1pt,y=1pt]
\useasboundingbox (0,0) rectangle (600,399.9);
\fill[white] (0,0) rectangle (600,399.9);
\draw[boxgray, line width=0.9pt] (39.9,75.6) rectangle (562.8,321.9);
\draw[boxgray, line width=0.9pt] (301.8,75.6) -- (301.8,321.9);

\node[font=\bfseries\fontsize{25}{28}\selectfont, text=radblack] at (58.5,303.3) {A};
\node[font=\bfseries\fontsize{25}{28}\selectfont, text=radblack] at (325.2,303.3) {B};
\node[font=\fontsize{11.5}{13}\selectfont, text=titlegray] at (171,307.5) {Retention time stability};
\node[font=\fontsize{8.8}{10}\selectfont, text=titlegray] at (171,295.8) {Target analytes};
\node[font=\fontsize{11.5}{13}\selectfont, text=titlegray] at (432.6,307.5) {Retention time stability};
\node[font=\fontsize{8.8}{10}\selectfont, text=titlegray] at (432.4,295.8) {Extracted internal standards};

% ---------------- Panel A ----------------
\begin{polaraxis}[radar, at={(170.7pt,182.85pt)}]
\pgfplotsinvokeforeach{1,...,17}{%
  \addplot[color=af#1, line width=1.9pt] table[x expr={\ang}, y expr={\thisrow{f#1}-2}] {\tabAf};}
\pgfplotsinvokeforeach{1,...,21}{%
  \addplot[color=ac#1, line width=1.9pt] table[x expr={\ang}, y expr={\thisrow{c#1}-2}] {\tabA};}
\addplot[fill=triblue, fill opacity=0.45, draw=triedge, line width=0.5pt]
  coordinates {(347,0.21) (100.5,6.51) (172.9,6.39)} -- cycle;
\addplot[fill=tripink, fill opacity=0.45, draw=triedge, line width=0.5pt]
  coordinates {(347,0.21) (28.4,6.11) (338.9,6.16)} -- cycle;
\addplot[fill=triyellow, fill opacity=0.45, draw=triedge, line width=0.5pt]
  coordinates {(309,0.32) (230.7,6.07) (279.5,6.29)} -- cycle;
\spokelabels
\radlabels
\end{polaraxis}

% ---------------- Panel B ----------------
\begin{polaraxis}[radar, at={(430.8pt,182.85pt)}]
\pgfplotsinvokeforeach{1,...,24}{%
  \addplot[color=bc#1, line width=2.6pt] table[x expr={\ang}, y expr={\thisrow{b#1}-2}] {\tabB};}
\addplot[fill=triblue, fill opacity=0.45, draw=triedge, line width=0.5pt]
  coordinates {(0,0.02) (102.3,6.55) (173.3,6.48)} -- cycle;
\addplot[fill=tripink, fill opacity=0.45, draw=triedge, line width=0.5pt]
  coordinates {(0,0.02) (29.5,5.91) (338.1,5.95)} -- cycle;
\addplot[fill=triyellow, fill opacity=0.45, draw=triedge, line width=0.5pt]
  coordinates {(266,0.27) (229.1,6.21) (277.9,6.26)} -- cycle;
\spokelabels
\radlabels
\end{polaraxis}
\end{tikzpicture}
\end{document}
